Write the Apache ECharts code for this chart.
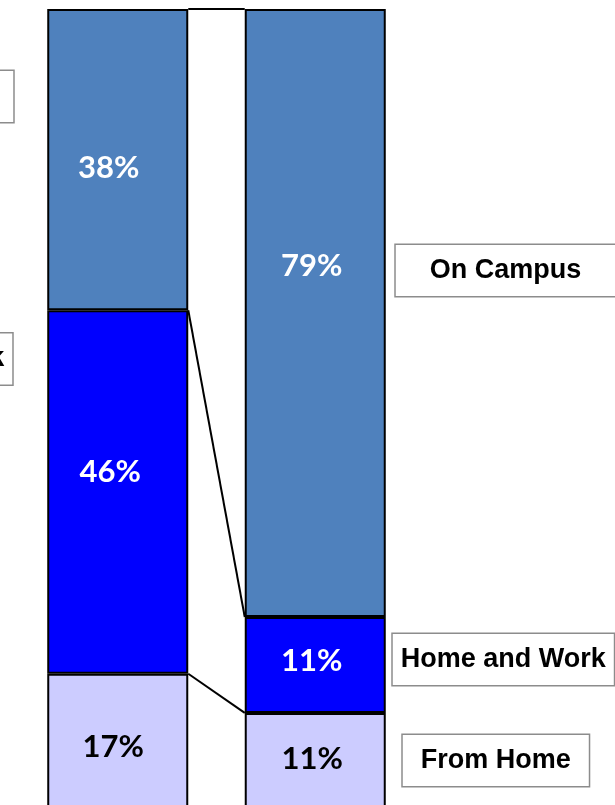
<!DOCTYPE html>
<html>
<head>
<meta charset="utf-8">
<script src="https://cdn.jsdelivr.net/npm/echarts@6/dist/echarts.min.js"></script>
<style>
html,body{margin:0;padding:0;background:#fff;overflow:hidden;width:615px;height:805px;}
#chart{width:615px;height:808px;}
</style>
</head>
<body>
<div id="chart"></div>
<script>
// ---- data ----
const categories = ['Before', 'After'];
const seriesNames = ['From Home', 'Home and Work', 'On Campus'];
const fromHome = [16.8, 11.9];
const homeAndWork = [45.5, 12.0];
const onCampus = [37.7, 76.1];
const fromHomeLabels = ['17%', '11%'];
const homeAndWorkLabels = ['46%', '11%'];
const onCampusLabels = ['38%', '79%'];

// ---- styling / layout ----
const values = [fromHome, homeAndWork, onCampus];
const pctLabels = [fromHomeLabels, homeAndWorkLabels, onCampusLabels];
const colors = ['#CCCCFF', '#0000FF', '#4F81BD'];
const pctColors = ['#000000', '#FFFFFF', '#FFFFFF'];
const pctOffsets = [
  [[-4.5, 6.5], [-3, -1.5]],
  [[-7.5, -19.5], [-3.5, -3.5]],
  [[-9, 8.5], [-3.5, -47.5]]
];
// name boxes: offsets [dx, dy] and horizontal padding
const boxOffsets = [
  [[-50, 0], [17, 0]],
  [[-35, -133], [7, -5.5]],
  [[-34, -63], [10, -42.5]]
];
const boxPadX = [18, 8, 34];
const BAR_FRAC = 0.714;

const series = [];
for (let s = 0; s < 3; s++) {
  series.push({
    name: seriesNames[s],
    type: 'bar',
    stack: 'main',
    barWidth: (BAR_FRAC * 100) + '%',
    barGap: '-100%',
    z: 2,
    itemStyle: { color: colors[s], borderColor: '#000', borderWidth: 2 },
    data: values[s].map((v, i) => ({
      value: v,
      label: {
        show: true,
        position: 'inside',
        formatter: pctLabels[s][i],
        offset: pctOffsets[s][i],
        color: pctColors[s],
        fontFamily: 'Lato',
        fontWeight: 'bold',
        fontSize: 31
      }
    }))
  });
}
for (let s = 0; s < 3; s++) {
  series.push({
    name: seriesNames[s] + ' box',
    type: 'bar',
    stack: 'ghost',
    barWidth: (BAR_FRAC * 100) + '%',
    barGap: '-100%',
    z: 1,
    itemStyle: { color: 'rgba(0,0,0,0)' },
    silent: true,
    data: values[s].map((v, i) => ({
      value: v,
      label: {
        show: true,
        position: i === 0 ? 'left' : 'right',
        distance: 0,
        offset: boxOffsets[s][i],
        formatter: seriesNames[s],
        color: '#000',
        fontFamily: 'Liberation Sans',
        fontWeight: 'bold',
        fontSize: 27,
        lineHeight: 27,
        backgroundColor: '#fff',
        borderColor: '#8c8c8c',
        borderWidth: 1.5,
        padding: [12, boxPadX[s]]
      }
    }))
  });
}

// series connector lines between cumulative boundaries
const cumLeft = [], cumRight = [];
let aL = 0, aR = 0;
for (let s = 0; s < 3; s++) {
  aL += values[s][0]; aR += values[s][1];
  cumLeft.push(aL); cumRight.push(aR);
}
series.push({
  type: 'custom',
  z: 5,
  silent: true,
  encode: { x: 0, y: [1, 2] },
  data: cumLeft.map((v, k) => [0, v, cumRight[k]]),
  renderItem: function (params, api) {
    const p0 = api.coord([0, api.value(1)]);
    const p1 = api.coord([1, api.value(2)]);
    const half = api.size([1, 0])[0] * BAR_FRAC / 2;
    return {
      type: 'line',
      shape: { x1: p0[0] + half, y1: p0[1], x2: p1[0] - half, y2: p1[1] },
      style: { stroke: '#000', lineWidth: 2 }
    };
  }
});

const chart = echarts.init(document.getElementById('chart'), null, { renderer: 'canvas' });
chart.setOption({
  animation: false,
  backgroundColor: '#fff',
  grid: { left: 19, top: 9, width: 395, bottom: 0, containLabel: false },
  xAxis: {
    type: 'category',
    data: categories,
    axisLine: { show: false },
    axisTick: { show: false },
    axisLabel: { show: false }
  },
  yAxis: {
    type: 'value',
    min: 0,
    max: 100,
    show: false,
    splitLine: { show: false }
  },
  series: series
});
</script>
</body>
</html>
